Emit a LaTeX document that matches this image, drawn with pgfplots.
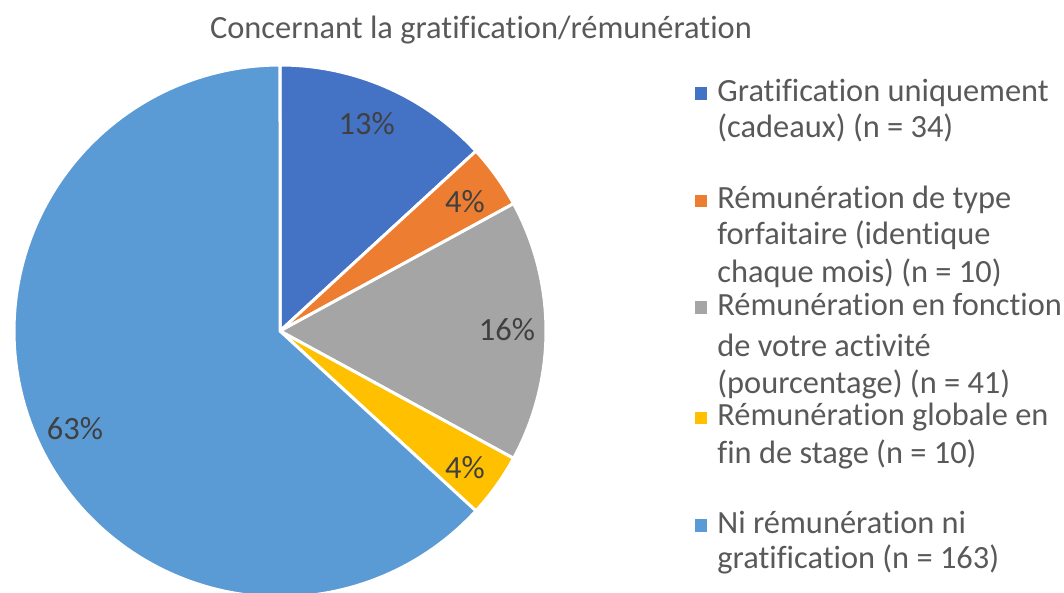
\documentclass[border=0pt]{standalone}
\usepackage{pgfplots}
\pgfplotsset{compat=1.18}
\usepackage{fontspec}
\setmainfont{Carlito}[Ligatures={NoCommon}]

\definecolor{sA}{HTML}{4472C4}
\definecolor{sB}{HTML}{ED7D31}
\definecolor{sC}{HTML}{A5A5A5}
\definecolor{sD}{HTML}{FFC000}
\definecolor{sE}{HTML}{5B9BD5}
\definecolor{txt}{HTML}{595959}
\definecolor{lab}{HTML}{404040}

% counts per category
\def\nA{34}\def\nB{10}\def\nC{41}\def\nD{10}\def\nE{163}
\pgfmathsetmacro\tot{\nA+\nB+\nC+\nD+\nE}
\pgfmathsetmacro\dg{360/\tot}
% slice boundaries, clockwise from 12 o'clock
\pgfmathsetmacro\aA{90}
\pgfmathsetmacro\aB{\aA-\dg*\nA}
\pgfmathsetmacro\aC{\aB-\dg*\nB}
\pgfmathsetmacro\aD{\aC-\dg*\nC}
\pgfmathsetmacro\aE{\aD-\dg*\nD}
\pgfmathsetmacro\aF{\aE-\dg*\nE}

\newcommand\lf{\fontsize{16.2}{19}\selectfont}

\begin{document}
\begin{tikzpicture}[font=\lf]
\path[use as bounding box] (0,0) rectangle (532pt,296.5pt);

\begin{axis}[
    at={(140pt,131pt)}, anchor=center,
    width=266pt, height=266pt, scale only axis,
    xmin=-1, xmax=1, ymin=-1, ymax=1,
    hide axis, clip=false,
    every axis plot/.append style={draw=white, line width=1.5pt, line join=round},
  ]
\addplot[fill=sA, domain=\aB:\aA, samples=40, variable=\t] ({cos(\t)},{sin(\t)}) -- (axis cs:0,0) -- cycle;
\addplot[fill=sB, domain=\aC:\aB, samples=15, variable=\t] ({cos(\t)},{sin(\t)}) -- (axis cs:0,0) -- cycle;
\addplot[fill=sC, domain=\aD:\aC, samples=40, variable=\t] ({cos(\t)},{sin(\t)}) -- (axis cs:0,0) -- cycle;
\addplot[fill=sD, domain=\aE:\aD, samples=15, variable=\t] ({cos(\t)},{sin(\t)}) -- (axis cs:0,0) -- cycle;
\addplot[fill=sE, domain=\aF:\aE, samples=150, variable=\t] ({cos(\t)},{sin(\t)}) -- (axis cs:0,0) -- cycle;

\node[text=lab, inner sep=0pt] at (axis cs:0.326,0.781) {13\%};
\node[text=lab, inner sep=0pt] at (axis cs:0.695,0.486) {4\%};
\node[text=lab, inner sep=0pt] at (axis cs:0.853,0.004) {16\%};
\node[text=lab, inner sep=0pt] at (axis cs:0.695,-0.515) {4\%};
\node[text=lab, inner sep=0pt] at (axis cs:-0.771,-0.365) {63\%};
\end{axis}

% title
\node[text=txt, anchor=base, inner sep=0pt] at (240.5pt,277.35pt) {Concernant la gratification/rémunération};

% legend
\tikzset{lt/.style={text=txt, anchor=base west, inner sep=0pt},
         sw/.style={minimum size=6.35pt, inner sep=0pt, draw=none}}
\node[sw, fill=sA] at (350.5pt,249.65pt) {};
\node[lt] at (358.5pt,245.65pt) {Gratification uniquement};
\node[lt] at (358.5pt,227.65pt) {(cadeaux) (n = 34)};

\node[sw, fill=sB] at (350.5pt,196pt) {};
\node[lt] at (358.5pt,192pt) {Rémunération de type};
\node[lt] at (358.5pt,174pt) {forfaitaire (identique};
\node[lt] at (358.5pt,155.35pt) {chaque mois) (n = 10)};

\node[sw, fill=sC] at (350.5pt,142.65pt) {};
\node[lt] at (358.5pt,138.65pt) {Rémunération en fonction};
\node[lt] at (358.5pt,118.15pt) {de votre activité};
\node[lt] at (358.5pt,99.85pt) {(pourcentage) (n = 41)};

\node[sw, fill=sD] at (350.5pt,87.5pt) {};
\node[lt] at (358.5pt,83.5pt) {Rémunération globale en};
\node[lt] at (358.5pt,64.85pt) {fin de stage (n = 10)};

\node[sw, fill=sE] at (350.5pt,33.85pt) {};
\node[lt] at (358.5pt,29.85pt) {Ni rémunération ni};
\node[lt] at (358.5pt,12.35pt) {gratification (n = 163)};
\end{tikzpicture}
\end{document}
